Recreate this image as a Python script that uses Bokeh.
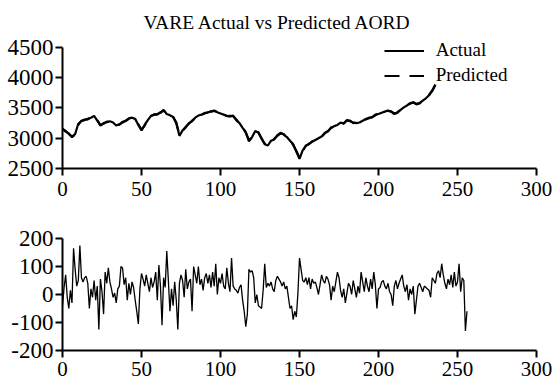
from bokeh.plotting import figure
from bokeh.layouts import column
from bokeh.models import Range1d, FixedTicker, Legend, LegendItem, CustomJSTickFormatter
from bokeh.embed import file_html
from bokeh.resources import INLINE

title_text = "VARE Actual vs Predicted AORD"

# top panel: index values sampled every 2 steps (t = 0, 2, ..., 236)
t_top = list(range(0, 237, 2))
actual = [3160, 3110, 3080, 3015, 3070, 3240, 3285, 3300, 3320, 3340,
          3370, 3290, 3210, 3250, 3265, 3280, 3260, 3210, 3230, 3260,
          3290, 3330, 3340, 3320, 3220, 3130, 3220, 3300, 3370, 3390,
          3400, 3420, 3470, 3400, 3380, 3350, 3250, 3040, 3130, 3180,
          3250, 3280, 3340, 3375, 3390, 3410, 3430, 3440, 3460, 3430,
          3410, 3390, 3370, 3360, 3375, 3300, 3250, 3170, 3100, 2950,
          3020, 3120, 3090, 3000, 2900, 2880, 2960, 2980, 3050, 3090,
          3060, 3020, 2960, 2900, 2780, 2660, 2800, 2870, 2910, 2940,
          2970, 3000, 3030, 3080, 3120, 3170, 3200, 3220, 3260, 3240,
          3300, 3280, 3260, 3250, 3260, 3290, 3320, 3330, 3350, 3390,
          3400, 3420, 3440, 3460, 3440, 3400, 3430, 3470, 3510, 3540,
          3580, 3590, 3560, 3580, 3620, 3660, 3710, 3790, 3890]
predicted = [3150, 3120, 3070, 3030, 3060, 3220, 3290, 3310, 3310, 3350,
             3360, 3300, 3220, 3240, 3275, 3270, 3265, 3220, 3225, 3270,
             3285, 3320, 3350, 3310, 3230, 3140, 3210, 3310, 3360, 3395,
             3390, 3430, 3455, 3410, 3370, 3355, 3260, 3060, 3120, 3190,
             3240, 3290, 3330, 3380, 3385, 3420, 3425, 3445, 3450, 3435,
             3400, 3395, 3365, 3370, 3365, 3310, 3240, 3180, 3090, 2970,
             3010, 3110, 3100, 2990, 2910, 2890, 2950, 2990, 3040, 3080,
             3070, 3010, 2970, 2890, 2790, 2680, 2790, 2880, 2900, 2950,
             2960, 3010, 3020, 3090, 3110, 3180, 3190, 3230, 3250, 3250,
             3290, 3290, 3250, 3260, 3250, 3300, 3310, 3340, 3345, 3380,
             3410, 3410, 3450, 3450, 3445, 3410, 3420, 3475, 3500, 3550,
             3570, 3595, 3570, 3575, 3630, 3650, 3720, 3780, 3880]

# bottom panel: residuals (t = 0 .. 256)
residual = [-40, 25, 70, -10, -50, 15, -30, 165, 90, 30,
            50, 175, 60, 45, 60, 65, 40, -50, 20, -10,
            50, -20, 30, -125, 55, 10, -70, 80, 40, 95,
            45, 20, -10, 5, -30, 20, 30, 100, 95, 35,
            60, -20, 40, 0, 45, 25, -20, -60, -105, 20,
            75, 55, 30, 70, 40, 10, 60, 25, 45, 80,
            -20, 105, 30, -110, 60, 25, 155, 50, -60, 20,
            -40, 45, -20, -125, 40, 70, 50, -10, 90, 20,
            45, 55, -60, 100, 70, 40, 100, 35, 55, 15,
            60, 75, 40, 70, 25, 80, 30, 110, 0, 60,
            40, 75, 30, 20, 95, 40, 10, 130, 30, 20,
            15, 5, 25, 35, -20, -60, -115, -70, 90, 80,
            85, 60, -30, 0, -40, -45, -50, 15, 110, 25,
            40, 30, 45, 20, 10, 50, 65, 55, 45, 30,
            45, 20, 30, -10, -50, -40, -90, -60, -80, 5,
            130, 90, 50, 45, 60, 35, 60, 20, 55, 40,
            45, 25, 0, 35, 70, 50, 40, 65, 55, 35,
            -20, 30, 10, 45, 80, 60, 15, -10, 20, -30,
            5, 40, 30, 0, 50, 20, -10, 30, 5, 80,
            45, 10, 60, 30, 10, 55, 20, 80, 35, -50,
            20, 25, 45, 50, 30, 20, 40, 10, 0, -40,
            30, 50, 20, 40, 55, 70, 30, 10, 35, -20,
            20, 0, 30, -70, -20, 30, 40, 25, 10, 30,
            25, 20, 15, -10, 60, 50, 40, 75, 85, 60,
            110, 70, 40, 20, 55, 35, 70, 25, 80, 30,
            45, 110, 10, 60, 50, -130, -60]
t_res = list(range(len(residual)))

x_ticks = [0, 50, 100, 150, 200, 250, 300]
y_ticks_top = [2500, 3000, 3500, 4000, 4500]
y_ticks_bot = [-200, -100, 0, 100, 200]

FONT = "Liberation Serif"
plain = CustomJSTickFormatter(code="return String(tick);")


def style(p, yt, x_standoff):
    p.grid.visible = False
    p.outline_line_color = None
    p.xaxis.ticker = FixedTicker(ticks=x_ticks)
    p.yaxis.ticker = FixedTicker(ticks=yt)
    p.yaxis.formatter = plain
    p.xaxis.formatter = plain
    p.yaxis.bounds = (yt[0], yt[-1])
    for ax in (p.xaxis[0], p.yaxis[0]):
        ax.axis_line_width = 2
        ax.axis_line_color = "black"
        ax.major_tick_line_width = 2
        ax.major_tick_line_color = "black"
        ax.major_tick_out = 7
        ax.major_tick_in = 0
        ax.minor_tick_line_color = None
        ax.major_label_text_font = FONT
        ax.major_label_text_color = "black"
    p.xaxis.major_label_text_font_size = "21px"
    p.yaxis.major_label_text_font_size = "23px"
    p.yaxis.major_label_standoff = 2
    p.xaxis.major_label_standoff = x_standoff


p1 = figure(width=554, height=200, x_range=Range1d(0, 300), y_range=Range1d(2500, 4665),
            output_backend="svg", toolbar_location=None,
            min_border_left=62, min_border_right=18, min_border_top=37, min_border_bottom=32)
style(p1, y_ticks_top, 6)
p1.title.text = title_text
p1.title.text_font = FONT
p1.title.text_font_size = "19.5px"
p1.title.text_font_style = "normal"
p1.title.text_color = "black"
p1.title.align = "left"
p1.title.offset = 81

r_act = p1.line(t_top, actual, line_color="black", line_width=2.2)
r_pred = p1.line(t_top, predicted, line_color="black", line_width=2.2, line_dash="15 10")
legend = Legend(items=[LegendItem(label="Actual", renderers=[r_act]),
                       LegendItem(label="Predicted", renderers=[r_pred])],
                location=(321.7, 80.5), glyph_width=40, glyph_height=25, label_height=25,
                label_standoff=12, padding=0, spacing=0, margin=0,
                border_line_color=None, background_fill_alpha=0,
                label_text_font=FONT, label_text_font_size="19px",
                label_text_color="black")
p1.add_layout(legend)

p2 = figure(width=554, height=184, x_range=Range1d(0, 300), y_range=Range1d(-200, 200),
            output_backend="svg", toolbar_location=None,
            min_border_left=62, min_border_right=18, min_border_top=38, min_border_bottom=34)
style(p2, y_ticks_bot, 4)
p2.line(t_res, residual, line_color="black", line_width=1.3)

layout = column(p1, p2, spacing=0)
open("out.html", "w").write(file_html(layout, INLINE))
